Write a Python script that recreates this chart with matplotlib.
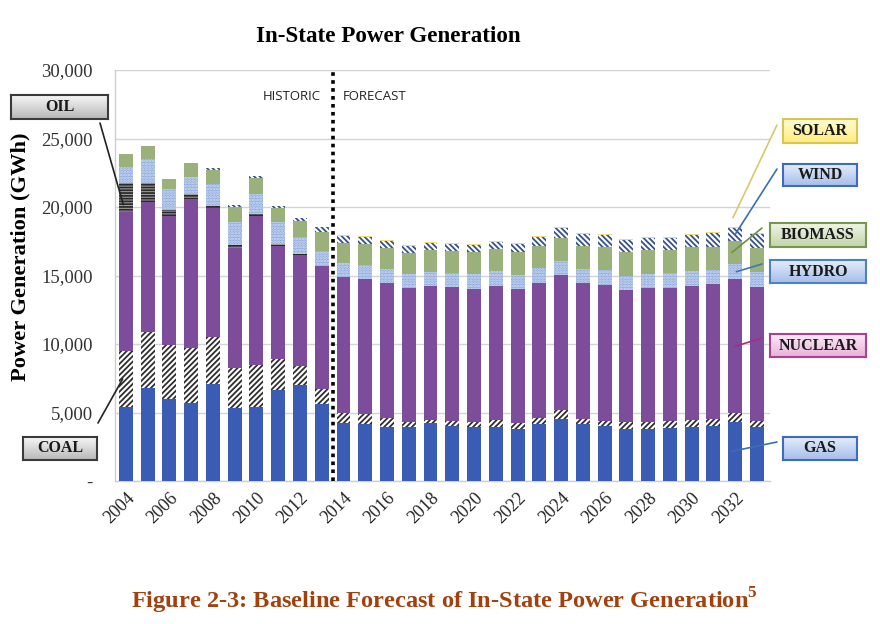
import matplotlib
matplotlib.use("Agg")
import matplotlib.pyplot as plt
import numpy as np
from matplotlib.colors import LinearSegmentedColormap

years = list(range(2004, 2034))
gas = [5380, 6810, 6010, 5720, 7080, 5300, 5380, 6640, 7010, 5620,
       4210, 4160, 3970, 3970, 4210, 4040, 3920, 3970, 3800, 4160,
       4530, 4140, 4040, 3800, 3800, 3850, 3970, 4040, 4330, 3970]
coal = [4130, 4040, 3920, 3970, 3410, 2920, 3090, 2240, 1390, 1070,
        780, 700, 610, 360, 250, 340, 410, 490, 460, 410,
        660, 390, 360, 535, 535, 535, 490, 460, 610, 410]
nuclear = [10150, 9540, 9440, 10830, 9415, 8810, 10880, 8300, 8100, 9000,
           9880, 9855, 9855, 9735, 9805, 9760, 9685, 9805, 9735, 9855,
           9855, 9905, 9905, 9610, 9735, 9685, 9805, 9880, 9785, 9805]
oil = [2070, 1340, 410, 420, 145, 195, 120, 120, 60, 25,
       0, 0, 0, 0, 0, 0, 0, 0, 0, 0,
       0, 0, 0, 0, 0, 0, 0, 0, 0, 0]
hydro = [1170, 1750, 1530, 1240, 1630, 1680, 1485, 1580, 1230, 1070,
         1020, 1045, 1020, 1020, 1020, 1070, 1070, 1070, 1045, 1095,
         1045, 1020, 1095, 1020, 1045, 1095, 1070, 1020, 1095, 1095]
biomass = [950, 975, 730, 1020, 1045, 1120, 1190, 1070, 1215, 1410,
           1510, 1535, 1535, 1580, 1580, 1580, 1605, 1605, 1655, 1655,
           1680, 1730, 1705, 1775, 1750, 1705, 1730, 1705, 1725, 1705]
wind = [0, 0, 0, 0, 100, 120, 120, 120, 170, 340,
        490, 535, 540, 490, 540, 540, 540, 540, 590, 635,
        730, 830, 830, 830, 855, 900, 880, 980, 905, 1030]
solar = [0, 0, 0, 0, 0, 0, 0, 0, 0, 20,
         70, 70, 70, 70, 70, 70, 70, 70, 70, 70,
         70, 70, 70, 70, 70, 70, 70, 70, 70, 70]
yticks = [0, 5000, 10000, 15000, 20000, 25000, 30000]
ytick_labels = ["-", "5,000", "10,000", "15,000", "20,000", "25,000", "30,000"]

plt.rcParams['hatch.linewidth'] = 1.3
plt.rcParams['mathtext.fontset'] = 'custom'
plt.rcParams['mathtext.rm'] = 'Liberation Serif'
plt.rcParams['mathtext.bf'] = 'Liberation Serif:bold'

W, H = 880, 624
fig = plt.figure(figsize=(8.8, 6.24), dpi=100)
ax = fig.add_axes([115/W, 1-481/H, 655/W, 411/H])

x = np.arange(len(years))
series = [
    ("gas", gas, dict(color="#3A5CB4")),
    ("coal", coal, dict(facecolor="white", edgecolor="#2E2E2E", hatch="//////")),
    ("nuclear", nuclear, dict(color="#7D4D9C")),
    ("oil", oil, dict(facecolor="#A8A8A8", edgecolor="#2A2A2A", hatch="------")),
    ("hydro", hydro, dict(facecolor="#8AA6DA", edgecolor="#D6E2F6", hatch="......")),
    ("biomass", biomass, dict(color="#9BB17C")),
    ("wind", wind, dict(facecolor="white", edgecolor="#34508F", hatch="\\\\\\\\\\\\")),
    ("solar", solar, dict(color="#EEDC78")),
]
bottom = np.zeros(len(years))
tops = {}
bottoms = {}
for name, vals, style in series:
    v = np.array(vals, dtype=float)
    ax.bar(x, v, width=0.64, bottom=bottom, linewidth=0, zorder=3, **style)
    bottoms[name] = bottom.copy()
    bottom = bottom + v
    tops[name] = bottom.copy()

ax.set_xlim(-0.5, 29.6)
ax.set_ylim(0, 30000)
ax.set_yticks(yticks)
ax.set_yticklabels(ytick_labels, fontfamily="Liberation Serif", fontsize=13.5, color="#333333")
ax.set_xticks(x[::2])
ax.set_xticklabels([str(y) for y in years[::2]], rotation=45, ha="right",
                   rotation_mode="anchor", fontfamily="Liberation Serif", fontsize=13, color="#222222")
ax.tick_params(axis="both", length=0)
ax.tick_params(axis="y", pad=16)
ax.tick_params(axis="x", pad=6)
ax.grid(axis="y", color="#D4D4D4", linewidth=1.0, zorder=0)
ax.set_axisbelow(True)
for s in ["top", "right"]:
    ax.spines[s].set_visible(False)
for s in ["left", "bottom"]:
    ax.spines[s].set_color("#CFCFCF")
    ax.spines[s].set_linewidth(1.0)

ax.axvline(9.5, ymin=0, ymax=0.995, color="black", linestyle=(0, (1, 1.2)), linewidth=2.6, zorder=4)
ax.text(9.5 - 0.55, 28050, "HISTORIC", ha="right", va="center",
        fontfamily="Open Sans", fontsize=9.5, color="#222222")
ax.text(9.5 + 0.45, 28050, "FORECAST", ha="left", va="center",
        fontfamily="Open Sans", fontsize=9.5, color="#222222")

fig.text(388/W, 1-36/H, "In-State Power Generation", ha="center", va="center",
         fontfamily="Liberation Serif", fontweight="bold", fontsize=16.6)
fig.text(20/W, 1-257/H, "Power Generation (GWh)", rotation=90, ha="center", va="center",
         fontfamily="Liberation Serif", fontweight="bold", fontsize=16.2)
fig.text(444/W, 1-601/H, r"Figure 2-3: Baseline Forecast of In-State Power Generation$^{\mathbf{5}}$",
         ha="center", va="center", fontfamily="Liberation Serif", fontweight="bold",
         fontsize=17.6, color="#A2400E")

# callout labels: text, box px (x0,y0,x1,y1), gradient top, gradient bottom, edge, line colour,
# target series, bar index, x offset, fraction within segment, line start px
labels = [
    ("OIL", (11, 95, 108, 119), "#F6F6F6", "#B8B8B8", "#3A3A3A", "#222222", "oil", 0, -0.12, 0.25, (100, 123)),
    ("COAL", (23, 437, 97, 460), "#F6F6F6", "#B8B8B8", "#3A3A3A", "#222222", "coal", 0, -0.15, 0.5, (98, 423)),
    ("SOLAR", (783, 119, 857, 143), "#FFFCD6", "#FFEC7A", "#D9C650", "#D9C870", "solar", 28, -0.1, None, (777, 125)),
    ("WIND", (783, 164, 857, 186), "#E4ECFA", "#A6BEEA", "#3D6CBE", "#3A6FB8", "wind", 28, 0.0, 0.5, (777, 169)),
    ("BIOMASS", (770, 223, 866, 247), "#F0F5E8", "#C2D4AA", "#76974C", "#6F8F45", "biomass", 28, -0.15, 0.5, (762, 228)),
    ("HYDRO", (770, 260, 866, 283), "#E4ECFA", "#A6BEEA", "#4A82C6", "#3A78B8", "hydro", 28, 0.05, 0.5, (762, 264)),
    ("NUCLEAR", (770, 334, 866, 357), "#FCEAF7", "#E8B2DA", "#B0408F", "#A03080", "nuclear", 28, 0.0, 0.5, (762, 338)),
    ("GAS", (783, 437, 857, 460), "#E4ECFA", "#A6BEEA", "#3D6CBE", "#3A6FB8", "gas", 28, -0.15, 0.5, (777, 442)),
]
grad = np.linspace(0, 1, 64).reshape(-1, 1)
for text, (x0, y0, x1, y1), ctop, cbot, edge, lc, sname, idx, dx, frac, (sx, sy) in labels:
    if frac is None:
        yv = tops[sname][idx] + 700
    else:
        yv = bottoms[sname][idx] + frac * (tops[sname][idx] - bottoms[sname][idx])
    ax.annotate("", xy=(idx + dx, yv), xycoords="data",
                xytext=(sx, H - sy), textcoords="figure pixels",
                arrowprops=dict(arrowstyle="-", color=lc, lw=1.2, shrinkA=0, shrinkB=0),
                annotation_clip=False, zorder=6)
    bax = fig.add_axes([x0/W, 1-y1/H, (x1-x0)/W, (y1-y0)/H])
    cmap = LinearSegmentedColormap.from_list("g", [ctop, cbot])
    bax.imshow(grad, aspect="auto", cmap=cmap, extent=(0, 1, 0, 1), origin="upper")
    bax.set_xticks([])
    bax.set_yticks([])
    for sp in bax.spines.values():
        sp.set_color(edge)
        sp.set_linewidth(1.5)
    bax.text(0.5, 0.5, text, ha="center", va="center", transform=bax.transAxes,
             fontfamily="Liberation Serif", fontweight="bold", fontsize=11.5, color="#1A1A1A")

fig.savefig("out.png", dpi=100, facecolor="white")
